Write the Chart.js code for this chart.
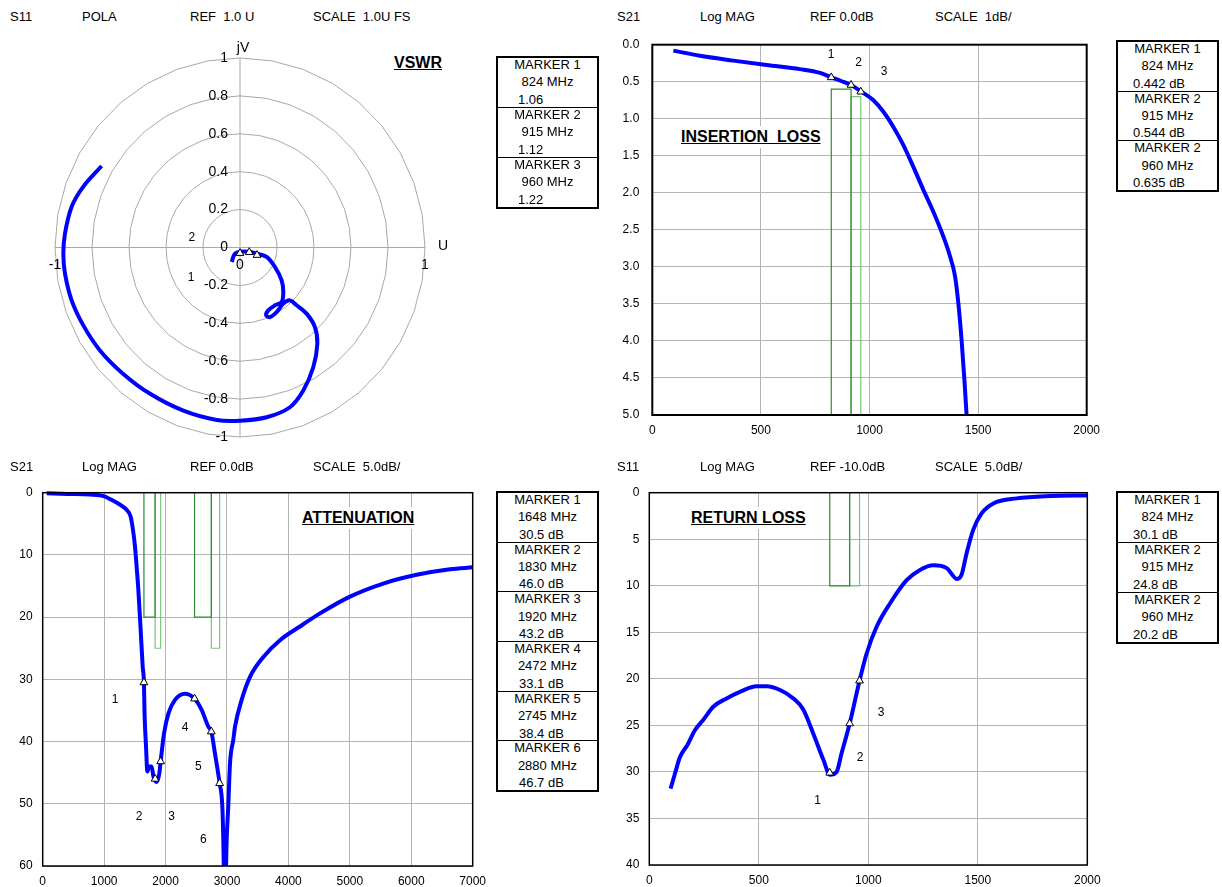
<!DOCTYPE html>
<html>
<head>
<meta charset="utf-8">
<title>Filter S-parameter plots</title>
<script src="https://cdn.jsdelivr.net/npm/chart.js@4"></script>
<style>
  body { margin: 0; background: #fff; font-family: Arial, "Liberation Sans", sans-serif; color: #000; }
  #page { position: relative; width: 1222px; height: 887px; overflow: hidden; }
  canvas { position: absolute; }
  .hd { position: absolute; font-size: 13px; line-height: 13px; white-space: pre; }
  .ttl { position: absolute; font-size: 16px; line-height: 16px; font-weight: bold; text-decoration: underline; white-space: pre; background: #fff; padding: 3px 2px; }
  .box { position: absolute; width: 103px; box-sizing: border-box; border: 2px solid #000; display: flex; flex-direction: column; font-size: 13px; background: #fff; }
  .sec { flex: 1; border-top: 1px solid #000; line-height: 17.4px; overflow: hidden; white-space: nowrap; }
  .sec:first-child { border-top: none; }
  .sec .l1 { margin-top: -2px; text-align: center; }
  .sec .l2 { text-align: center; }
</style>
</head>
<body>
<div id="page">
  <canvas id="polar" width="480" height="430" style="left:0;top:30px"></canvas>
  <canvas id="il" width="500" height="420" style="left:605px;top:30px"></canvas>
  <canvas id="att" width="490" height="409" style="left:0;top:478px"></canvas>
  <canvas id="rl" width="505" height="409" style="left:600px;top:478px"></canvas>

  <div class="hd" style="left:10px;top:10px">S11</div>
  <div class="hd" style="left:82px;top:10px">POLA</div>
  <div class="hd" style="left:190px;top:10px">REF  1.0 U</div>
  <div class="hd" style="left:313px;top:10px">SCALE  1.0U FS</div>

  <div class="hd" style="left:617px;top:10px">S21</div>
  <div class="hd" style="left:700px;top:10px">Log MAG</div>
  <div class="hd" style="left:810px;top:10px">REF 0.0dB</div>
  <div class="hd" style="left:935px;top:10px">SCALE  1dB/</div>

  <div class="hd" style="left:10px;top:460px">S21</div>
  <div class="hd" style="left:82px;top:460px">Log MAG</div>
  <div class="hd" style="left:190px;top:460px">REF 0.0dB</div>
  <div class="hd" style="left:313px;top:460px">SCALE  5.0dB/</div>

  <div class="hd" style="left:617px;top:460px">S11</div>
  <div class="hd" style="left:700px;top:460px">Log MAG</div>
  <div class="hd" style="left:810px;top:460px">REF -10.0dB</div>
  <div class="hd" style="left:935px;top:460px">SCALE  5.0dB/</div>

  <div class="ttl" style="left:392px;top:52px">VSWR</div>
  <div class="ttl" style="left:679px;top:126px">INSERTION  LOSS</div>
  <div class="ttl" style="left:300px;top:507px">ATTENUATION</div>
  <div class="ttl" style="left:689px;top:507px">RETURN LOSS</div>
</div>

<script>
// ---- S11 polar (real U, imaginary jV) ----
const s11U = [-0.045, -0.027, 0.0, 0.049, 0.092, 0.144, 0.189, 0.225, 0.234, 0.225, 0.189, 0.153, 0.141, 0.162, 0.198, 0.234, 0.270, 0.306, 0.360, 0.405, 0.418, 0.396, 0.342, 0.270, 0.144, 0.0, -0.126, -0.306, -0.486, -0.631, -0.757, -0.847, -0.910, -0.946, -0.955, -0.946, -0.910, -0.847, -0.748];
const s11V = [-0.076, -0.032, -0.022, -0.022, -0.033, -0.050, -0.103, -0.173, -0.235, -0.288, -0.305, -0.332, -0.358, -0.367, -0.341, -0.296, -0.279, -0.305, -0.349, -0.420, -0.508, -0.632, -0.755, -0.843, -0.896, -0.914, -0.910, -0.861, -0.772, -0.667, -0.543, -0.411, -0.279, -0.138, -0.032, 0.074, 0.215, 0.321, 0.430];
const vswrMarkerU = [0.0, 0.05, 0.092];
const vswrMarkerV = [-0.03, -0.025, -0.04];
const vswrMarkerNames = ['MARKER 1', 'MARKER 2', 'MARKER 3'];
const vswrMarkerFreq = [824, 915, 960];
const vswrMarkerVal = [1.06, 1.12, 1.22];
const polarRings = [0.2, 0.4, 0.6, 0.8, 1];
const polarVTicks = [1, 0.8, 0.6, 0.4, 0.2, 0, -0.2, -0.4, -0.6, -0.8, -1];
const polarUTicks = [-1, 0, 1];
const polarLabelText = ['2', '1'];
const polarLabelU = [-0.26, -0.265];
const polarLabelV = [0.05, -0.157];

// ---- S21 insertion loss ----
const ilFreq = [97, 219, 373, 526, 680, 772, 824, 870, 915, 960, 1018, 1064, 1110, 1156, 1202, 1248, 1294, 1340, 1371, 1394, 1409, 1424, 1437, 1447, 1452];
const ilLoss = [0.08, 0.15, 0.215, 0.275, 0.33, 0.38, 0.44, 0.49, 0.545, 0.63, 0.75, 0.905, 1.11, 1.355, 1.65, 1.96, 2.255, 2.59, 2.86, 3.13, 3.49, 3.99, 4.53, 5.0, 5.25];
const ilMarkerNames = ['MARKER 1', 'MARKER 2', 'MARKER 2'];
const ilMarkerFreq = [824, 915, 960];
const ilMarkerVal = [0.442, 0.544, 0.635];
const ilMaskFreq = [[824, 915], [915, 960]];
const ilMaskLimit = [0.6, 0.7];
const ilLabelText = ['1', '2', '3'];
const ilLabelFreq = [823, 950, 1067];
const ilLabelVal = [0.14, 0.245, 0.365];
const ilXTicks = [0, 500, 1000, 1500, 2000];
const ilYTicks = [0, 0.5, 1, 1.5, 2, 2.5, 3, 3.5, 4, 4.5, 5];

// ---- S21 attenuation ----
const attFreq = [65, 400, 770, 990, 1150, 1300, 1370, 1430, 1470, 1503, 1530, 1557, 1595, 1628, 1648, 1658, 1682, 1704, 1736, 1774, 1800, 1830, 1856, 1899, 1920, 1975, 2046, 2154, 2317, 2472, 2587, 2696, 2745, 2804, 2880, 2924, 2940, 2955, 2975, 2995, 3021, 3049, 3103, 3131, 3239, 3375, 3592, 3863, 4188, 4514, 5002, 5544, 6087, 6630, 7000];
const attLoss = [0.1, 0.2, 0.3, 0.55, 1.3, 2.2, 2.8, 3.8, 6, 8.7, 12, 15.6, 22.1, 28.0, 30.5, 35.5, 40.8, 44.8, 44.0, 44.0, 45.5, 46.3, 46.5, 45.1, 43.2, 38.7, 35.5, 33.3, 32.3, 33.1, 34.9, 37.6, 38.4, 41.9, 46.7, 50.4, 55.7, 63, 63, 55.7, 50.4, 43.5, 39.7, 37.6, 33.3, 29.6, 26.4, 23.7, 21.5, 19.4, 16.7, 14.6, 13.2, 12.3, 12.0];
const attMarkerNames = ['MARKER 1', 'MARKER 2', 'MARKER 3', 'MARKER 4', 'MARKER 5', 'MARKER 6'];
const attMarkerFreq = [1648, 1830, 1920, 2472, 2745, 2880];
const attMarkerVal = [30.5, 46.0, 43.2, 33.1, 38.4, 46.7];
const attMaskFreq = [[1648, 1830], [1830, 1920], [2472, 2745], [2745, 2880]];
const attMaskLimit = [20, 25, 20, 25];
const attLabelText = ['1', '2', '3', '4', '5', '6'];
const attLabelFreq = [1177, 1568, 2100, 2317, 2533, 2615];
const attLabelVal = [33.2, 52.0, 52.0, 37.7, 44.1, 55.7];
const attXTicks = [0, 1000, 2000, 3000, 4000, 5000, 6000, 7000];
const attYTicks = [0, 10, 20, 30, 40, 50, 60];

// ---- S11 return loss ----
const rlFreq = [97, 117, 140, 174, 209, 247, 292, 353, 414, 490, 536, 597, 658, 703, 749, 795, 825, 855, 878, 915, 960, 992, 1038, 1099, 1175, 1236, 1297, 1358, 1406, 1426, 1449, 1479, 1518, 1571, 1677, 1830, 2000];
const rlLoss = [31.8, 30.2, 28.4, 27.1, 25.5, 24.4, 23.0, 22.1, 21.4, 20.8, 20.8, 21.2, 22.1, 23.3, 25.9, 28.7, 30.3, 30.0, 28.0, 24.8, 20.2, 17.3, 14.4, 11.9, 9.4, 8.3, 7.8, 8.1, 9.27, 8.8, 6.5, 4.0, 2.2, 1.15, 0.61, 0.36, 0.3];
const rlMarkerNames = ['MARKER 1', 'MARKER 2', 'MARKER 2'];
const rlMarkerFreq = [824, 915, 960];
const rlMarkerVal = [30.1, 24.8, 20.2];
const rlMaskFreq = [[824, 915], [915, 960]];
const rlMaskLimit = [10, 10];
const rlLabelText = ['1', '2', '3'];
const rlLabelFreq = [769, 962, 1058];
const rlLabelVal = [33.1, 28.5, 23.6];
const rlXTicks = [0, 500, 1000, 1500, 2000];
const rlYTicks = [0, 5, 10, 15, 20, 25, 30, 35, 40];

const FONT = 'Arial, "Liberation Sans", sans-serif';
const TRACE = '#0000ff';
const MASK_COLORS = ['#2e8b2e', '#7cc47c'];
const GRID = '#b4b4b4';

Chart.defaults.font.family = FONT;
Chart.defaults.font.size = 12;
Chart.defaults.color = '#000';

const page = document.getElementById('page');

// zip two arrays into {x, y} points
function pts(xs, ys) {
  return xs.map((v, i) => ({ x: v, y: ys[i] }));
}

// black rectangle round the plot area
function framePlugin(width) {
  return {
    id: 'frame',
    afterDatasetsDraw(chart) {
      const a = chart.chartArea, ctx = chart.ctx;
      ctx.save();
      ctx.strokeStyle = '#000';
      ctx.lineWidth = width;
      ctx.strokeRect(a.left, a.top, a.right - a.left, a.bottom - a.top);
      ctx.restore();
    }
  };
}

// marker numbers written next to the trace
function labelPlugin(texts, xs, ys) {
  return {
    id: 'markerNumbers',
    afterDatasetsDraw(chart) {
      const { ctx, scales: { x, y } } = chart;
      ctx.save();
      ctx.font = '12px ' + FONT;
      ctx.fillStyle = '#000';
      ctx.textAlign = 'center';
      ctx.textBaseline = 'middle';
      texts.forEach((t, i) => ctx.fillText(t, x.getPixelForValue(xs[i]), y.getPixelForValue(ys[i])));
      ctx.restore();
    }
  };
}

function markerDataset(xs, ys) {
  return {
    data: pts(xs, ys),
    showLine: false,
    pointStyle: 'triangle',
    pointRadius: 4.5,
    pointBackgroundColor: '#fff',
    pointBorderColor: '#000',
    pointBorderWidth: 1,
    order: 1
  };
}

function cartesian(id, o) {
  const datasets = [];
  // limit masks drawn first, under the trace
  o.maskFreq.forEach((band, i) => {
    const lim = o.maskLimit[i];
    datasets.push({
      data: [{ x: band[0], y: o.maskEdge }, { x: band[0], y: lim }, { x: band[1], y: lim }, { x: band[1], y: o.maskEdge }],
      borderColor: MASK_COLORS[i % 2],
      borderWidth: 1.2,
      pointRadius: 0,
      tension: 0,
      order: 3
    });
  });
  datasets.push({
    data: pts(o.freq, o.val),
    borderColor: TRACE,
    borderWidth: 4,
    pointRadius: 0,
    cubicInterpolationMode: 'monotone',
    clip: { left: 5, top: 5, right: 5, bottom: 0 },
    order: 2
  });
  datasets.push(markerDataset(o.markerFreq, o.markerVal));

  new Chart(document.getElementById(id), {
    type: 'line',
    data: { datasets },
    options: {
      responsive: false,
      animation: false,
      layout: { padding: o.pad },
      plugins: { legend: { display: false }, tooltip: { enabled: false } },
      scales: {
        x: {
          type: 'linear',
          min: o.xTicks[0],
          max: o.xTicks[o.xTicks.length - 1],
          afterBuildTicks: s => { s.ticks = o.xTicks.map(v => ({ value: v })); },
          ticks: { padding: 8, maxRotation: 0, autoSkip: false, font: { size: 12 }, callback: v => String(v) },
          grid: { color: GRID, lineWidth: 1, drawTicks: false },
          border: { display: false },
          afterFit: s => { s.height = o.xh; s.paddingLeft = 0; s.paddingRight = 0; }
        },
        y: {
          type: 'linear',
          reverse: true,
          min: o.yTicks[0],
          max: o.yTicks[o.yTicks.length - 1],
          afterBuildTicks: s => { s.ticks = o.yTicks.map(v => ({ value: v })); },
          ticks: { padding: o.ypad, autoSkip: false, font: { size: 12 }, callback: o.yFmt },
          grid: { color: GRID, lineWidth: 1, drawTicks: false },
          border: { display: false },
          afterFit: s => { s.width = o.yw; s.paddingTop = 0; s.paddingBottom = 0; }
        }
      }
    },
    plugins: [framePlugin(o.frame), labelPlugin(o.labelText, o.labelFreq, o.labelVal)]
  });
}

// ---------- polar (VSWR) ----------
const polarGrid = {
  id: 'polarGrid',
  beforeDatasetsDraw(chart) {
    const { ctx, scales: { x, y } } = chart;
    const cx = x.getPixelForValue(0), cy = y.getPixelForValue(0);
    ctx.save();
    ctx.strokeStyle = '#a8a8a8';
    ctx.lineWidth = 1;
    polarRings.forEach(r => {
      ctx.beginPath();
      for (let k = 0; k <= 36; k++) {
        const a = k * Math.PI / 18;
        const px = x.getPixelForValue(r * Math.cos(a));
        const py = y.getPixelForValue(r * Math.sin(a));
        if (k === 0) ctx.moveTo(px, py); else ctx.lineTo(px, py);
      }
      ctx.stroke();
    });
    ctx.beginPath();
    ctx.moveTo(x.getPixelForValue(-1), cy);
    ctx.lineTo(x.getPixelForValue(1), cy);
    ctx.moveTo(cx, y.getPixelForValue(-1));
    ctx.lineTo(cx, y.getPixelForValue(1));
    ctx.stroke();

    ctx.fillStyle = '#000';
    ctx.font = '14px ' + FONT;
    ctx.textBaseline = 'middle';
    ctx.textAlign = 'right';
    polarVTicks.forEach(v => ctx.fillText(String(v), cx - 12, y.getPixelForValue(v)));
    ctx.textAlign = 'center';
    polarUTicks.forEach(u => ctx.fillText(String(u), x.getPixelForValue(u), cy + 18));
    ctx.fillText('jV', cx + 3, y.getPixelForValue(1) - 10);
    ctx.fillText('U', x.getPixelForValue(1) + 18, cy - 1);
    ctx.font = '12px ' + FONT;
    polarLabelText.forEach((t, i) => ctx.fillText(t, x.getPixelForValue(polarLabelU[i]), y.getPixelForValue(polarLabelV[i])));
    ctx.restore();
  }
};

new Chart(document.getElementById('polar'), {
  type: 'scatter',
  data: {
    datasets: [
      {
        data: pts(s11U, s11V),
        showLine: true,
        borderColor: TRACE,
        borderWidth: 4,
        pointRadius: 0,
        tension: 0.35,
        order: 2
      },
      markerDataset(vswrMarkerU, vswrMarkerV)
    ]
  },
  options: {
    responsive: false,
    animation: false,
    layout: { padding: { left: 55, right: 55, top: 28, bottom: 23 } },
    plugins: { legend: { display: false }, tooltip: { enabled: false } },
    scales: {
      x: { type: 'linear', display: false, min: -1, max: 1 },
      y: { type: 'linear', display: false, min: -1, max: 1 }
    }
  },
  plugins: [polarGrid]
});

cartesian('il', {
  freq: ilFreq, val: ilLoss,
  markerFreq: ilMarkerFreq, markerVal: ilMarkerVal,
  maskFreq: ilMaskFreq, maskLimit: ilMaskLimit, maskEdge: 5,
  labelText: ilLabelText, labelFreq: ilLabelFreq, labelVal: ilLabelVal,
  xTicks: ilXTicks, yTicks: ilYTicks,
  yFmt: v => Number(v).toFixed(1),
  pad: { left: 0, right: 18.3, top: 14.7, bottom: 0 },
  yw: 47.3, xh: 35, ypad: 13, frame: 2
});

cartesian('att', {
  freq: attFreq, val: attLoss,
  markerFreq: attMarkerFreq, markerVal: attMarkerVal,
  maskFreq: attMaskFreq, maskLimit: attMaskLimit, maskEdge: 0,
  labelText: attLabelText, labelFreq: attLabelFreq, labelVal: attLabelVal,
  xTicks: attXTicks, yTicks: attYTicks,
  yFmt: v => String(v),
  pad: { left: 0, right: 17.3, top: 14.7, bottom: 0 },
  yw: 42.7, xh: 21, ypad: 10, frame: 1.5
});

cartesian('rl', {
  freq: rlFreq, val: rlLoss,
  markerFreq: rlMarkerFreq, markerVal: rlMarkerVal,
  maskFreq: rlMaskFreq, maskLimit: rlMaskLimit, maskEdge: 0,
  labelText: rlLabelText, labelFreq: rlLabelFreq, labelVal: rlLabelVal,
  xTicks: rlXTicks, yTicks: rlYTicks,
  yFmt: v => String(v),
  pad: { left: 0, right: 17.7, top: 14.7, bottom: 0 },
  yw: 49.3, xh: 22, ypad: 10, frame: 1.5
});

// ---------- marker readout boxes ----------
function markerBox(left, top, height, names, freqs, values, fmt, valuePad) {
  const box = document.createElement('div');
  box.className = 'box';
  box.style.left = left + 'px';
  box.style.top = top + 'px';
  box.style.height = height + 'px';
  names.forEach((n, i) => {
    const sec = document.createElement('div');
    sec.className = 'sec';
    const l1 = document.createElement('div'); l1.className = 'l1'; l1.textContent = n;
    const l2 = document.createElement('div'); l2.className = 'l2'; l2.textContent = freqs[i] + ' MHz';
    const l3 = document.createElement('div'); l3.style.paddingLeft = valuePad + 'px'; l3.textContent = fmt(values[i]);
    sec.append(l1, l2, l3);
    box.appendChild(sec);
  });
  page.appendChild(box);
}

markerBox(496, 56, 153, vswrMarkerNames, vswrMarkerFreq, vswrMarkerVal, v => v.toFixed(2), 20);
markerBox(1116, 40, 152, ilMarkerNames, ilMarkerFreq, ilMarkerVal, v => v.toFixed(3) + ' dB', 15);
markerBox(496, 491, 301, attMarkerNames, attMarkerFreq, attMarkerVal, v => v.toFixed(1) + ' dB', 21);
markerBox(1116, 491, 153, rlMarkerNames, rlMarkerFreq, rlMarkerVal, v => v.toFixed(1) + ' dB', 15);
</script>
</body>
</html>
